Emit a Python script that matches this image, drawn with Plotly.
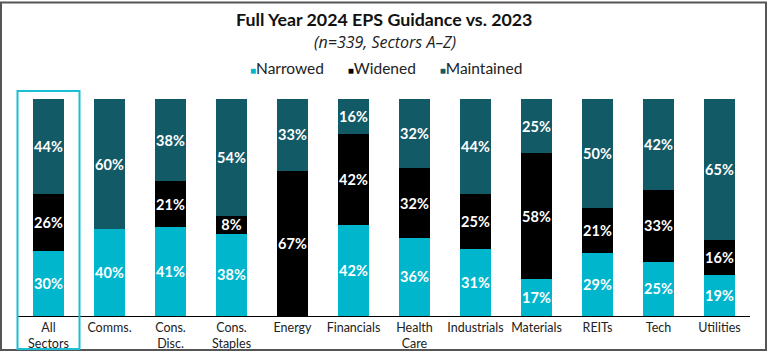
import plotly.graph_objects as go

categories = ["All<br>Sectors", "Comms.", "Cons.<br>Disc.", "Cons.<br>Staples", "Energy",
              "Financials", "Health<br>Care", "Industrials", "Materials", "REITs", "Tech", "Utilities"]
narrowed = [30, 40, 41, 38, 0, 42, 36, 31, 17, 29, 25, 19]
widened = [26, 0, 21, 8, 67, 42, 32, 25, 58, 21, 33, 16]
maintained = [44, 60, 38, 54, 33, 16, 32, 44, 25, 50, 42, 65]

series_names = ["Narrowed", "Widened", "Maintained"]
colors = ["#00B6CD", "#000000", "#135A67"]

W, H = 768, 357
L, R, T, B = 18, 18, 99, 41
PW, PH = W - L - R, H - T - B


def xp(px):
    return (px - L) / PW


def yp(py):
    return (H - B - py) / PH


def labels(vals):
    return [f"{v}%" if v > 0 else "" for v in vals]


fig = go.Figure()
for name, vals, col in zip(series_names, [narrowed, widened, maintained], colors):
    fig.add_trace(go.Bar(
        x=categories, y=vals, name=name, marker=dict(color=col, line=dict(width=0)),
        text=labels(vals), textposition="inside", insidetextanchor="middle",
        textangle=0, constraintext="none",
        textfont=dict(family="Lato", size=14.5, color="white", weight="bold"),
        hoverinfo="skip", showlegend=False,
    ))

fig.update_layout(
    width=W, height=H, barmode="stack", bargap=0.48,
    margin=dict(l=L, r=R, t=T, b=B, autoexpand=False),
    paper_bgcolor="white", plot_bgcolor="white",
    font=dict(family="Lato", color="#222222"),
    xaxis=dict(showgrid=False, showline=True, linecolor="#000000", linewidth=1,
               ticks="", automargin=False,
               tickfont=dict(family="Lato", size=12.5, color="#222222"),
               fixedrange=True),
    yaxis=dict(range=[0, 100], visible=False, showgrid=False, fixedrange=True,
               automargin=False),
    uniformtext=dict(mode=False),
)

# Title, subtitle and legend text
fig.add_annotation(text="<b>Full Year 2024 EPS Guidance vs. 2023</b>", xref="paper", yref="paper",
                   x=xp(384), y=yp(19), xanchor="center", yanchor="middle", showarrow=False,
                   font=dict(family="Lato", size=17.8, color="#111111"))
fig.add_annotation(text="<i>(n=339, Sectors A–Z)</i>", xref="paper", yref="paper",
                   x=xp(385), y=yp(42), xanchor="center", yanchor="middle", showarrow=False,
                   font=dict(family="Open Sans", size=16, color="#222222"))
legend_parts = []
for name, col in zip(series_names, colors):
    legend_parts.append(f"<span style='font-size:10px;color:{col}'>■</span>{name}")
fig.add_annotation(text="      ".join(legend_parts), xref="paper", yref="paper",
                   x=xp(386), y=yp(68), xanchor="center", yanchor="middle", showarrow=False,
                   font=dict(family="Lato", size=15.5, color="#222222"))

# Outer border
fig.add_shape(type="rect", xref="paper", yref="paper", x0=xp(1), x1=xp(766),
              y0=yp(350), y1=yp(2.5),
              line=dict(color="#555555", width=2), fillcolor="rgba(0,0,0,0)", layer="above")

# Highlight box around "All Sectors"
fig.add_shape(type="rect", xref="paper", yref="paper", x0=xp(17.5), x1=xp(79.5),
              y0=yp(349), y1=yp(91), line=dict(color="#1BBFD4", width=2),
              fillcolor="rgba(0,0,0,0)", layer="above")

fig.write_html("out.html", config={"displayModeBar": False, "staticPlot": True},
               post_script="document.body.style.margin='0';")
